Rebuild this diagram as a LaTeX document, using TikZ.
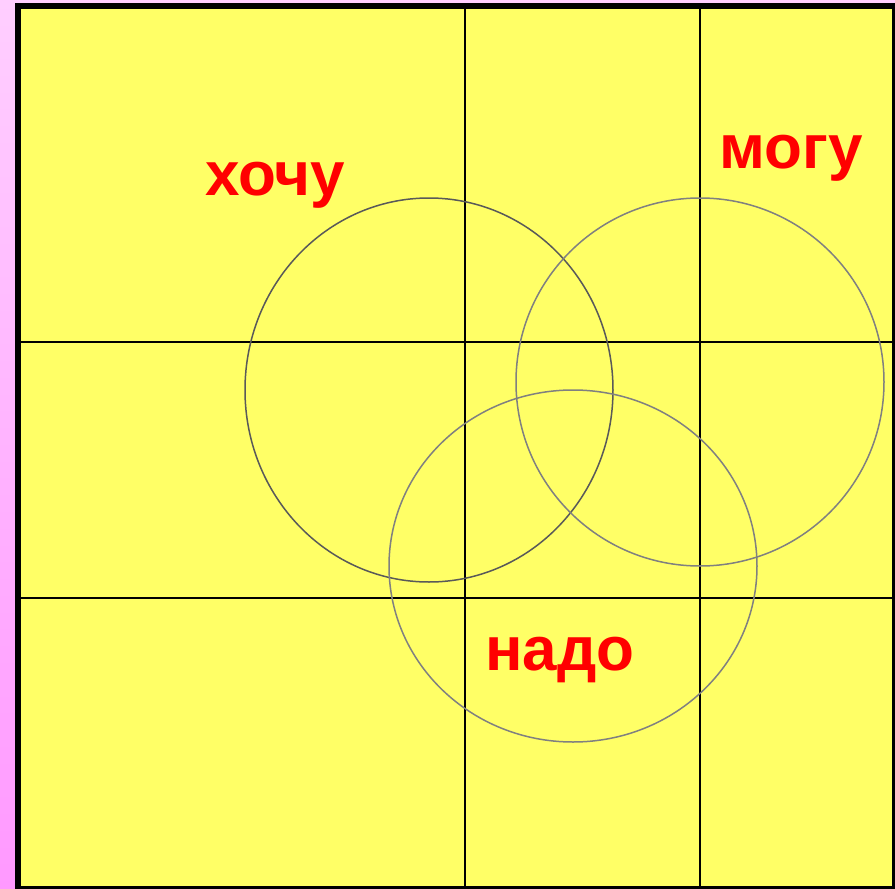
\documentclass[tikz,border=0pt]{standalone}
\usepackage{fontspec}
\setmainfont{Liberation Sans}
\usetikzlibrary{positioning}
\definecolor{padyellow}{RGB}{255,255,102}
\definecolor{pinktop}{RGB}{255,206,255}
\definecolor{pinkbot}{RGB}{255,153,255}
\tikzset{
  gridline/.style={line width=2pt, black},
  ring/.style={line width=1.5pt, draw=#1},
  ring/.default=gray,
  wordlabel/.style={
    anchor=base, inner sep=0pt, text=red,
    font=\fontsize{62}{70}\selectfont\bfseries
  },
}
\begin{document}
\begin{tikzpicture}[x=1pt,y=-1pt]
  \useasboundingbox (0,0) rectangle (895,889);
  % backdrop and board
  \shade[top color=pinktop,bottom color=pinkbot] (0,0) rectangle (895,889);
  \draw[line width=6pt,fill=padyellow] (18,6) rectangle (895,889);
  % grid
  \draw[gridline] (465,9) -- (465,886);
  \draw[gridline] (700,9) -- (700,886);
  \draw[gridline] (21,342) -- (892,342);
  \draw[gridline] (21,598) -- (892,598);
  % three circles
  \draw[ring=gray!70!black] (429,390) ellipse [x radius=184, y radius=192];
  \draw[ring] (700,382) ellipse [x radius=184, y radius=184];
  \draw[ring] (573,566) ellipse [x radius=184, y radius=176];
  % labels
  \node[wordlabel] (want) at (275,195) {хочу};
  \node[wordlabel] (can) at (791,168) {могу};
  \node[wordlabel] (must) at (560,670) {надо};
\end{tikzpicture}
\end{document}
